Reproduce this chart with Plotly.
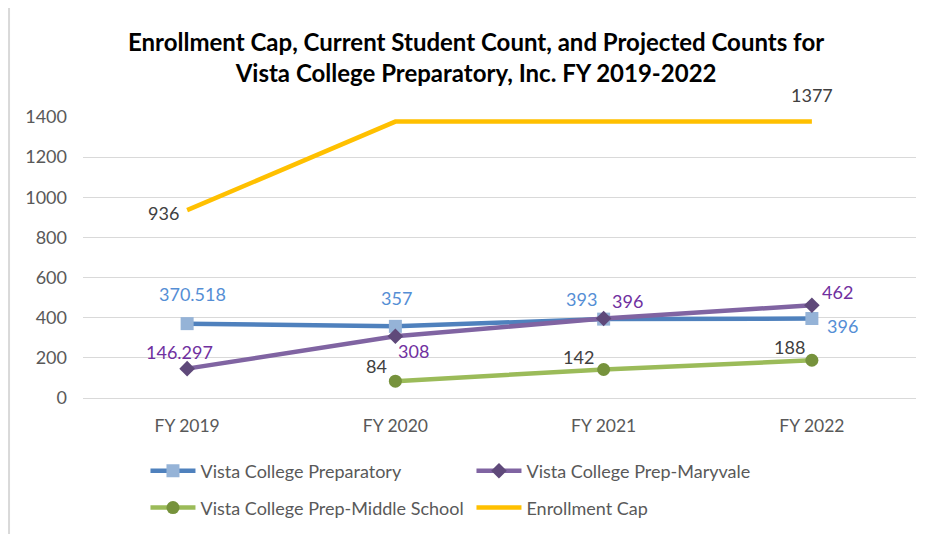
#######################################################################################################################
# Enrollment Cap, Current Student Count, and Projected Counts - Vista College Preparatory
#######################################################################################################################
import plotly.graph_objects as go

#######################################################################################################################
# Data
#######################################################################################################################
years = ['FY 2019', 'FY 2020', 'FY 2021', 'FY 2022']
prep = [370.518, 357, 393, 396]
maryvale = [146.297, 308, 396, 462]
middle = [None, 84, 142, 188]
cap = [936, 1377, 1377, 1377]

# labels shown on the chart (None = no label)
prepTxt = ['370.518', '357', '393', '396']
maryTxt = ['146.297', '308', '396', '462']
midTxt = [None, '84', '142', '188']
capTxt = ['936', None, None, '1377']

titleTxt = ('Enrollment Cap, Current Student Count, and Projected Counts for<br>'
            'Vista College Preparatory, Inc. FY 2019-2022')

#######################################################################################################################
# Style
#######################################################################################################################
fnt = 'Lato'
gry = '#595959'

# label offsets (px) from the point: (dx, dy)
prepOff = [(5, 30), (1, 28), (-22, 20), (31, -7)]
maryOff = [(-8, 17), (18, -15), (24, 18), (26, 13)]
midOff = [(0, 0), (-19, 15), (-25, 13), (-22, 13)]
capOff = [(-24, -3), (0, 0), (0, 0), (0, 27)]

#######################################################################################################################
# Figure
#######################################################################################################################
fig = go.Figure()

# ==============================================================================
# Traces
# ==============================================================================
fig.add_trace(go.Scatter(x=years, y=prep, mode='lines+markers', name='Vista College Preparatory',
                         line=dict(color='#4F81BD', width=4.5),
                         marker=dict(symbol='square', size=13, color='#95B3D7'), legend='legend'))
fig.add_trace(go.Scatter(x=years, y=maryvale, mode='lines+markers', name='Vista College Prep-Maryvale',
                         line=dict(color='#8064A2', width=4.5),
                         marker=dict(symbol='diamond', size=12, color='#5F497A'), legend='legend'))
fig.add_trace(go.Scatter(x=years, y=middle, mode='lines+markers', name='Vista College Prep-Middle School',
                         line=dict(color='#9BBB59', width=4.5),
                         marker=dict(symbol='circle', size=13, color='#76923C'), legend='legend2'))
fig.add_trace(go.Scatter(x=years, y=cap, mode='lines', name='Enrollment Cap',
                         line=dict(color='#FFC000', width=4.5), legend='legend2'))

# ==============================================================================
# Data labels
# ==============================================================================
for vals, txts, offs, col in [(prep, prepTxt, prepOff, '#558ED5'),
                              (maryvale, maryTxt, maryOff, '#7030A0'),
                              (middle, midTxt, midOff, '#404040'),
                              (cap, capTxt, capOff, '#404040')]:
    for x, y, t, o in zip(years, vals, txts, offs):
        if t is None or y is None:
            continue
        fig.add_annotation(x=x, y=y, text=t, showarrow=False, xshift=o[0], yshift=o[1],
                           font=dict(family=fnt, size=18, color=col))

# ==============================================================================
# Title
# ==============================================================================
fig.add_annotation(x=0.472, y=1.215, xref='paper', yref='paper', text=titleTxt, showarrow=False,
                   xanchor='center', yanchor='middle', align='center',
                   font=dict(family=fnt, size=24, color='black', weight='bold'))

# ==============================================================================
# Axis
# ==============================================================================
fig.update_xaxes(range=[-0.5, 3.5], showgrid=False, showline=False, ticks='',
                 tickfont=dict(family=fnt, size=17.5, color=gry), ticklabelstandoff=15)
fig.update_yaxes(range=[0, 1400], dtick=200, showgrid=True, gridcolor='#D9D9D9', gridwidth=1,
                 zeroline=True, zerolinecolor='#D9D9D9', zerolinewidth=1, showline=False, ticks='',
                 tickfont=dict(family=fnt, size=18, color=gry), ticklabelstandoff=15)

# ==============================================================================
# Border (left and top only)
# ==============================================================================
fig.add_shape(type='line', xref='paper', yref='paper', x0=-0.0888, x1=-0.0888, y0=-0.6, y1=1.393,
              line=dict(color='#D9D9D9', width=2))
fig.add_shape(type='line', xref='paper', yref='paper', x0=-0.0888, x1=1.1, y0=1.393, y1=1.393,
              line=dict(color='#D9D9D9', width=2))

# ==============================================================================
# Layout
# ==============================================================================
legStyle = dict(orientation='h', xanchor='left', yanchor='middle', entrywidth=266, itemwidth=45,
                font=dict(family=fnt, size=18, color=gry), bgcolor='rgba(0,0,0,0)', traceorder='normal')
fig.update_layout(
    width=930, height=534,
    margin=dict(l=75, r=22, t=109, b=144),
    paper_bgcolor='white', plot_bgcolor='white',
    legend=dict(x=0.075, y=-0.26, **legStyle),
    legend2=dict(x=0.075, y=-0.391, **legStyle),
    showlegend=True,
)

fig.write_html("out.html")
